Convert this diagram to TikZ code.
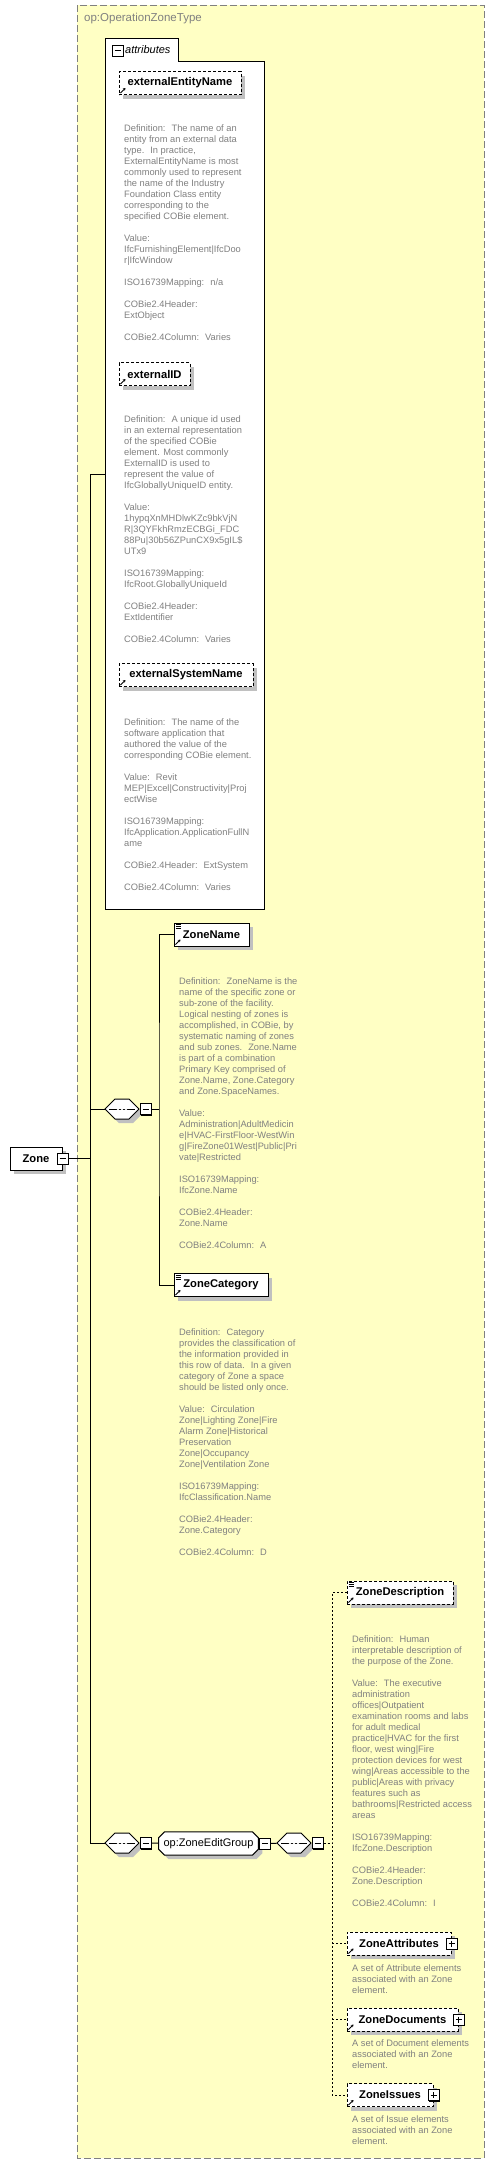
\documentclass[tikz,border=0pt]{standalone}
\usepackage{fontspec}
\usepackage{tikz}
\usetikzlibrary{shapes.misc}
\usetikzlibrary{arrows.meta}
\usetikzlibrary{shadows}
\newfontfamily\descfont{Liberation Sans}
\definecolor{typefill}{RGB}{255,255,196}
\definecolor{typeline}{RGB}{128,128,128}
\definecolor{descgray}{RGB}{128,128,128}
\definecolor{shadowgray}{RGB}{192,192,192}
\newcommand{\refarrow}{\draw[solid,line width=0.8pt,-{Stealth[length=2.5pt,width=3pt]}] ([shift={(1.5pt,1.5pt)}]path picture bounding box.south west) -- ++(5pt,5pt);}
\newcommand{\listmark}{\foreach \dy in {1.5,3.5,5.5} \draw[solid,line width=0.7pt] ([shift={(1.5pt,-\dy pt)}]path picture bounding box.north west) -- ++(5pt,0pt);}
\tikzstyle{elembox}=[rectangle,draw,fill=white,line width=1pt,
  font=\descfont\bfseries\fontsize{11.2}{13}\selectfont,
  minimum height=23pt,inner xsep=8pt,
  drop shadow={shadow xshift=4pt,shadow yshift=-4pt,fill=shadowgray,opacity=1}]
\tikzstyle{elem}=[elembox,path picture={\refarrow}]
\tikzstyle{optelem}=[elem,dash pattern=on 3pt off 2pt]
\tikzstyle{listelem}=[elembox,path picture={\refarrow\listmark}]
\tikzstyle{optlistelem}=[listelem,dash pattern=on 3pt off 2pt]
\tikzstyle{collapsebox}=[rectangle,draw,fill=white,line width=1pt,minimum size=11pt,inner sep=0pt,
  drop shadow={shadow xshift=1pt,shadow yshift=-1pt,fill=black,opacity=1},
  path picture={\draw[solid,line width=1pt] ([xshift=2.5pt]path picture bounding box.west) -- ([xshift=-2.5pt]path picture bounding box.east);}]
\tikzstyle{expandbox}=[collapsebox,
  path picture={\draw[solid,line width=1pt] ([xshift=2.5pt]path picture bounding box.west) -- ([xshift=-2.5pt]path picture bounding box.east);
  \draw[solid,line width=1pt] ([yshift=-2.5pt]path picture bounding box.north) -- ([yshift=2.5pt]path picture bounding box.south);}]
\tikzstyle{seqbox}=[chamfered rectangle,chamfered rectangle xsep=5pt,chamfered rectangle ysep=5pt,
  draw,fill=white,line width=1pt,inner xsep=12pt,inner ysep=5pt,
  drop shadow={shadow xshift=4pt,shadow yshift=-4pt,fill=shadowgray,opacity=1},
  path picture={\draw[line width=1pt] ([xshift=4pt]path picture bounding box.west) -- ([xshift=-4pt]path picture bounding box.east);
  \foreach \dx in {-4,0,4} \fill ([xshift=\dx pt]path picture bounding box.center) circle (1.4pt);}]
\tikzstyle{groupbox}=[chamfered rectangle,chamfered rectangle xsep=3pt,chamfered rectangle ysep=3pt,
  draw,fill=white,line width=1pt,minimum width=97pt,inner xsep=2pt,inner ysep=3.5pt,
  font=\descfont\fontsize{11}{13}\selectfont,
  drop shadow={shadow xshift=4pt,shadow yshift=-4pt,fill=shadowgray,opacity=1}]
\tikzstyle{desc}=[font=\descfont\fontsize{9.3}{11}\selectfont,text=descgray,align=left,inner sep=0pt,anchor=north west]
\tikzstyle{typetitle}=[font=\descfont\fontsize{11.5}{13}\selectfont,text=typeline,anchor=west,inner sep=0pt]
\tikzstyle{tabtext}=[font=\descfont\itshape\fontsize{11}{13}\selectfont,anchor=west,inner sep=0pt]
\tikzstyle{conn}=[line width=1pt]
\tikzstyle{optconn}=[line width=1pt,dash pattern=on 2pt off 2pt]

\begin{document}
\begin{tikzpicture}[x=1pt,y=-1pt]
\useasboundingbox (0,0) rectangle (495,2164);
\draw[typeline,fill=typefill,line width=1pt,dash pattern=on 7pt off 3pt] (77,5) rectangle (484,2158);
\node[typetitle] (title) at (84,19) {op:OperationZoneType};
%attributes
\draw[fill=white,line width=1pt] (105,38) -- (178,38) -- (178,61) -- (264,61) -- (264,909) -- (105,909) -- cycle;
\node[collapsebox] (attrpm) at (117.5,50.5) {};
\node[tabtext] (attrlabel) at (125,50) {attributes};
\coordinate (attrs) at (105,474);
\node[optelem,minimum width=122pt] (extname) at (180,83) {externalEntityName};
\node[desc] (extnametext) at (124,124.5) {Definition:~ The name of an\\entity from an external data\\type.~ In practice,\\ExternalEntityName is most\\commonly used to represent\\the name of the Industry\\Foundation Class entity\\corresponding to the\\specified COBie element.\\[11pt]Value:\\IfcFurnishingElement|IfcDoo\\r|IfcWindow\\[11pt]ISO16739Mapping:~ n/a\\[11pt]COBie2.4Header:\\ExtObject\\[11pt]COBie2.4Column:~ Varies};
\node[optelem,minimum width=71pt] (extid) at (154.5,374) {externalID};
\node[desc] (extidtext) at (124,415.5) {Definition:~ A unique id used\\in an external representation\\of the specified COBie\\element. Most commonly\\ExternalID is used to\\represent the value of\\IfcGloballyUniqueID entity.\\[11pt]Value:\\1hypqXnMHDlwKZc9bkVjN\\R|3QYFkhRmzECBGi\_FDC\\88Pu|30b56ZPunCX9x5gIL\$\\UTx9\\[11pt]ISO16739Mapping:\\IfcRoot.GloballyUniqueId\\[11pt]COBie2.4Header:\\ExtIdentifier\\[11pt]COBie2.4Column:~ Varies};
\node[optelem,minimum width=134pt] (extsys) at (186,675) {externalSystemName};
\node[desc] (extsystext) at (124,718.5) {Definition:~ The name of the\\software application that\\authored the value of the\\corresponding COBie element.\\[11pt]Value:~ Revit\\MEP|Excel|Constructivity|Proj\\ectWise\\[11pt]ISO16739Mapping:\\IfcApplication.ApplicationFullN\\ame\\[11pt]COBie2.4Header:~ ExtSystem\\[11pt]COBie2.4Column:~ Varies};
%zone
\node[elembox,minimum width=52pt] (zone) at (36,1158.5) {Zone};
\node[collapsebox] (zonepm) at (zone.east) {};
\node[seqbox] (seq1) at (122,1109) {};
\node[collapsebox,anchor=west] (seq1pm) at (seq1.east) {};
\node[listelem,minimum width=75pt] (zname) at (211.5,934.5) {ZoneName};
\node[desc] (znametext) at (179,977.5) {Definition:~ ZoneName is the\\name of the specific zone or\\sub-zone of the facility.\\Logical nesting of zones is\\accomplished, in COBie, by\\systematic naming of zones\\and sub zones.~ Zone.Name\\is part of a combination\\Primary Key comprised of\\Zone.Name, Zone.Category\\and Zone.SpaceNames.\\[11pt]Value:\\Administration|AdultMedicin\\e|HVAC-FirstFloor-WestWin\\g|FireZone01West|Public|Pri\\vate|Restricted\\[11pt]ISO16739Mapping:\\IfcZone.Name\\[11pt]COBie2.4Header:\\Zone.Name\\[11pt]COBie2.4Column:~ A};
\node[listelem,minimum width=94pt] (zcat) at (221,1285) {ZoneCategory};
\node[desc] (zcattext) at (179,1328.5) {Definition:~ Category\\provides the classification of\\the information provided in\\this row of data.~ In a given\\category of Zone a space\\should be listed only once.\\[11pt]Value:~ Circulation\\Zone|Lighting Zone|Fire\\Alarm Zone|Historical\\Preservation\\Zone|Occupancy\\Zone|Ventilation Zone\\[11pt]ISO16739Mapping:\\IfcClassification.Name\\[11pt]COBie2.4Header:\\Zone.Category\\[11pt]COBie2.4Column:~ D};
%edit group
\node[seqbox] (seq2) at (122,1843) {};
\node[collapsebox,anchor=west] (seq2pm) at (seq2.east) {};
\node[groupbox] (group) at (208.5,1843.5) {op:ZoneEditGroup};
\node[collapsebox,anchor=west] (grouppm) at (group.east) {};
\node[seqbox] (seq3) at (294,1843) {};
\node[collapsebox,anchor=west] (seq3pm) at (seq3.east) {};
\node[optlistelem,minimum width=106pt] (zdesc) at (400,1592.5) {ZoneDescription};
\node[desc] (zdesctext) at (352,1635.5) {Definition:~ Human\\interpretable description of\\the purpose of the Zone.\\[11pt]Value:~ The executive\\administration\\offices|Outpatient\\examination rooms and labs\\for adult medical\\practice|HVAC for the first\\floor, west wing|Fire\\protection devices for west\\wing|Areas accessible to the\\public|Areas with privacy\\features such as\\bathrooms|Restricted access\\areas\\[11pt]ISO16739Mapping:\\IfcZone.Description\\[11pt]COBie2.4Header:\\Zone.Description\\[11pt]COBie2.4Column:~ I};
\node[optelem,minimum width=104pt] (zattr) at (399,1943.5) {ZoneAttributes};
\node[expandbox] (zattrpm) at (zattr.east) {};
\node[desc] (zattrtext) at (352,1964.5) {A set of Attribute elements\\associated with an Zone\\element.};
\node[optelem,minimum width=111pt] (zdocs) at (402.5,2019.5) {ZoneDocuments};
\node[expandbox] (zdocspm) at (zdocs.east) {};
\node[desc] (zdocstext) at (352,2039.5) {A set of Document elements\\associated with an Zone\\element.};
\node[optelem,minimum width=86pt] (zissues) at (390,2095) {ZoneIssues};
\node[expandbox] (zissuespm) at (zissues.east) {};
\node[desc] (zissuestext) at (352,2115.5) {A set of Issue elements\\associated with an Zone\\element.};
%Drawing Edges
\coordinate (trunktop) at (90,474);
\coordinate (trunkbot) at (90,1843);
\coordinate (seqfork) at (159,1109);
\coordinate (optfork) at (332,1843);
\draw[conn] (attrs) -- (trunktop) -- (trunkbot) -- (seq2);
\draw[conn] (zonepm) -- (zonepm -| trunktop);
\draw[conn] (seq1 -| trunktop) -- (seq1);
\draw[conn] (seq1pm) -- (seqfork);
\draw[conn] (zname) -| (seqfork) |- (zcat);
\draw[conn] (seq2pm) -- (group);
\draw[conn] (grouppm) -- (seq3);
\draw[optconn] (seq3pm) -- (optfork);
\draw[optconn] (zdesc) -| (optfork) |- (zissues);
\draw[optconn] (optfork |- zattr) -- (zattr);
\draw[optconn] (optfork |- zdocs) -- (zdocs);
\end{tikzpicture}
\end{document}
